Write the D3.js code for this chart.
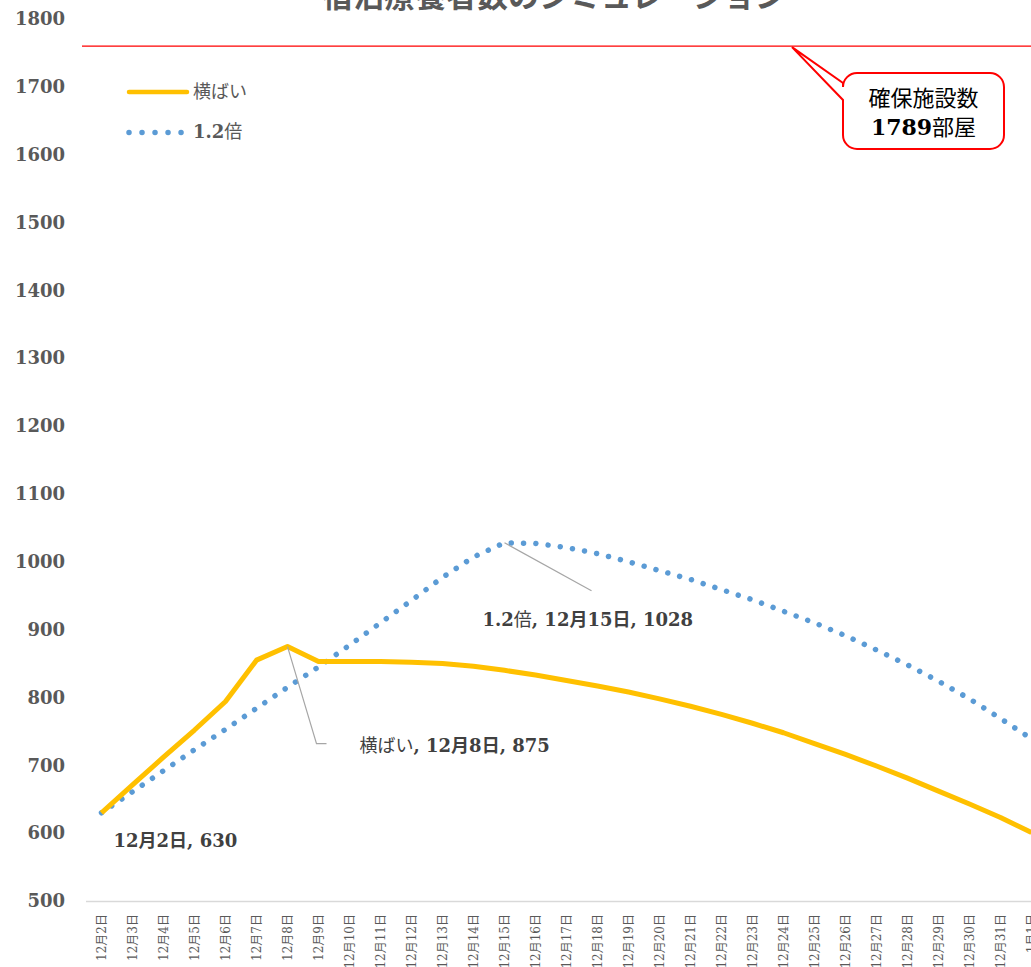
<!DOCTYPE html>
<html>
<head>
<meta charset="utf-8">
<script src="https://cdn.jsdelivr.net/npm/d3@7"></script>
<style>
  html, body { margin: 0; padding: 0; background: #fff; overflow: hidden; }
  svg { display: block; }
</style>
</head>
<body>
<svg id="chart" width="1031" height="967"></svg>
<script>
// ---- data ----
const categories = [
  "12月2日","12月3日","12月4日","12月5日","12月6日","12月7日","12月8日","12月9日",
  "12月10日","12月11日","12月12日","12月13日","12月14日","12月15日","12月16日","12月17日",
  "12月18日","12月19日","12月20日","12月21日","12月22日","12月23日","12月24日","12月25日",
  "12月26日","12月27日","12月28日","12月29日","12月30日","12月31日","1月1日"
];
const flatValues = [
  630, 671, 712, 752, 794, 855, 875, 853,
  853, 853, 852, 850, 846, 840, 833, 825,
  817, 808, 798, 787, 775, 762, 748, 732,
  716, 699, 681, 662, 643, 623, 601
];
const x12Values = [
  630, 661, 692, 723, 753, 784, 815, 845,
  877, 910, 943, 977, 1007, 1028, 1027, 1021,
  1012, 1000, 987, 974, 959, 944, 927, 910,
  891, 870, 848, 824, 798, 769, 739
];
const yTicks = [500, 600, 700, 800, 900, 1000, 1100, 1200, 1300, 1400, 1500, 1600, 1700, 1800];
const capacityLine = 1760;
const seriesNames = ["横ばい", "1.2倍"];
const titleText = "宿泊療養者数のシミュレーション";

// ---- layout ----
const svg = d3.select("#chart");
const W = 1031, H = 967;
const plotLeft = 86, bandW = 31;
const plotRight = plotLeft + bandW * categories.length;
const yTop = 19, yBottom = 901;

const serif = "'DejaVu Serif', 'Noto Sans CJK JP', serif";
const gothic = "'Noto Sans CJK JP', 'Noto Sans', sans-serif";

svg.append("rect").attr("width", W).attr("height", H).attr("fill", "#fff");

const x = d3.scalePoint().domain(categories).range([plotLeft + bandW / 2, plotRight - bandW / 2]);
const y = d3.scaleLinear().domain([500, 1800]).range([yBottom, yTop]);

// title (mostly cut off at the top)
svg.append("text")
  .attr("x", 554).attr("y", 7)
  .attr("text-anchor", "middle")
  .attr("font-family", gothic).attr("font-weight", "bold")
  .attr("font-size", 31).attr("fill", "#595959")
  .text(titleText);

// y axis labels
const yAxis = d3.axisLeft(y).tickValues(yTicks).tickFormat(d3.format("d")).tickSize(0).tickPadding(0);
const gy = svg.append("g").attr("transform", `translate(65,0)`).call(yAxis);
gy.select(".domain").remove();
gy.selectAll("text")
  .attr("font-family", serif).attr("font-weight", "bold")
  .attr("font-size", 18).attr("fill", "#595959");

// x axis
const xAxis = d3.axisBottom(x).tickSize(0).tickPadding(0);
const gx = svg.append("g").attr("transform", `translate(0,${yBottom})`).call(xAxis);
gx.select(".domain").remove();
gx.append("line").attr("x1", plotLeft).attr("x2", plotRight).attr("y1", 0.5).attr("y2", 0.5)
  .attr("stroke", "#d9d9d9").attr("stroke-width", 1.5);
gx.selectAll(".tick text")
  .attr("font-family", serif).attr("font-size", 12).attr("fill", "#595959")
  .attr("text-anchor", "end")
  .attr("dy", "0.35em")
  .attr("transform", "translate(0,13) rotate(-90)")
  .attr("x", 0).attr("y", 0);

// capacity line
svg.append("line")
  .attr("x1", 82).attr("x2", W)
  .attr("y1", y(capacityLine)).attr("y2", y(capacityLine))
  .attr("stroke", "#ff0000").attr("stroke-width", 1.3);

// lines
const line = d3.line().x((d, i) => x(categories[i])).y(d => y(d));
svg.append("path").datum(x12Values)
  .attr("d", line).attr("fill", "none")
  .attr("stroke", "#5b9bd5").attr("stroke-width", 5.5)
  .attr("stroke-linecap", "round").attr("stroke-dasharray", "0.01 12.3");
svg.append("path").datum(flatValues)
  .attr("d", line).attr("fill", "none")
  .attr("stroke", "#ffc000").attr("stroke-width", 5)
  .attr("stroke-linejoin", "round");

// data labels
const labelColor = "#404040";
function dataLabel(parts, lx, ly) {
  const t = svg.append("text").attr("x", lx).attr("y", ly)
    .attr("font-size", 18).attr("fill", labelColor);
  parts.forEach(p => {
    t.append("tspan")
      .attr("font-family", p.g ? gothic : serif)
      .attr("font-weight", p.b ? "bold" : "normal")
      .text(p.t);
  });
}
// 12/2 start label
const p0x = x(categories[0]), p0y = y(flatValues[0]);
dataLabel([{t: "12", b: 1}, {t: "月", b: 1, g: 1}, {t: "2", b: 1}, {t: "日", b: 1, g: 1}, {t: ", 630", b: 1}],
  p0x + 12, p0y + 34);

// 横ばい peak
const i8 = 6;
const p8x = x(categories[i8]), p8y = y(flatValues[i8]);
svg.append("polyline")
  .attr("points", `${p8x},${p8y} ${p8x + 29},${p8y + 97} ${p8x + 39},${p8y + 97}`)
  .attr("fill", "none").attr("stroke", "#a6a6a6").attr("stroke-width", 1.2);
dataLabel([{t: seriesNames[0], g: 1}, {t: ", 12", b: 1}, {t: "月", b: 1, g: 1}, {t: "8", b: 1},
           {t: "日", b: 1, g: 1}, {t: ", 875", b: 1}], p8x + 72, p8y + 105);

// 1.2倍 peak
const i15 = 13;
const p15x = x(categories[i15]), p15y = y(x12Values[i15]);
svg.append("line")
  .attr("x1", p15x).attr("y1", p15y).attr("x2", p15x + 87).attr("y2", p15y + 48)
  .attr("stroke", "#a6a6a6").attr("stroke-width", 1.2);
dataLabel([{t: "1.2", b: 1}, {t: "倍", g: 1}, {t: ", 12", b: 1}, {t: "月", b: 1, g: 1}, {t: "15", b: 1},
           {t: "日", b: 1, g: 1}, {t: ", 1028", b: 1}], p15x - 22, p15y + 83);

// legend
const lg = svg.append("g");
lg.append("line").attr("x1", 129).attr("x2", 187).attr("y1", 92).attr("y2", 92)
  .attr("stroke", "#ffc000").attr("stroke-width", 4.5).attr("stroke-linecap", "round");
lg.append("text").attr("x", 193).attr("y", 92).attr("dy", "0.35em")
  .attr("font-family", gothic).attr("font-size", 18).attr("fill", "#595959").text(seriesNames[0]);
lg.append("line").attr("x1", 129).attr("x2", 182).attr("y1", 132.5).attr("y2", 132.5)
  .attr("stroke", "#5b9bd5").attr("stroke-width", 5.5)
  .attr("stroke-linecap", "round").attr("stroke-dasharray", "0.01 13");
const lt2 = lg.append("text").attr("x", 193).attr("y", 132).attr("dy", "0.35em")
  .attr("font-size", 18).attr("fill", "#595959");
lt2.append("tspan").attr("font-family", serif).attr("font-weight", "bold").text("1.2");
lt2.append("tspan").attr("font-family", gothic).text("倍");

// callout
const cx0 = 843, cy0 = 73, cw = 161, ch = 76, r = 14;
const tipX = 792, tipY = y(capacityLine) + 1;
const b1 = cy0 + 10, b2 = cy0 + 27;
const path = d3.path();
path.moveTo(cx0 + r, cy0);
path.lineTo(cx0 + cw - r, cy0);
path.arcTo(cx0 + cw, cy0, cx0 + cw, cy0 + r, r);
path.lineTo(cx0 + cw, cy0 + ch - r);
path.arcTo(cx0 + cw, cy0 + ch, cx0 + cw - r, cy0 + ch, r);
path.lineTo(cx0 + r, cy0 + ch);
path.arcTo(cx0, cy0 + ch, cx0, cy0 + ch - r, r);
path.lineTo(cx0, b2);
path.lineTo(tipX, tipY);
path.lineTo(cx0, b1);
path.lineTo(cx0, cy0 + r);
path.arcTo(cx0, cy0, cx0 + r, cy0, r);
path.closePath();
svg.append("path").attr("d", path.toString())
  .attr("fill", "#fff").attr("stroke", "#ff0000").attr("stroke-width", 2)
  .attr("stroke-linejoin", "miter");
svg.append("text").attr("x", cx0 + cw / 2).attr("y", 98).attr("dy", "0.35em")
  .attr("text-anchor", "middle").attr("font-family", gothic).attr("font-size", 22)
  .attr("fill", "#000").text("確保施設数");
const ct = svg.append("text").attr("x", cx0 + cw / 2).attr("y", 127).attr("dy", "0.35em")
  .attr("text-anchor", "middle").attr("font-size", 22).attr("fill", "#000");
ct.append("tspan").attr("font-family", serif).attr("font-weight", "bold").text("1789");
ct.append("tspan").attr("font-family", gothic).text("部屋");
</script>
</body>
</html>
